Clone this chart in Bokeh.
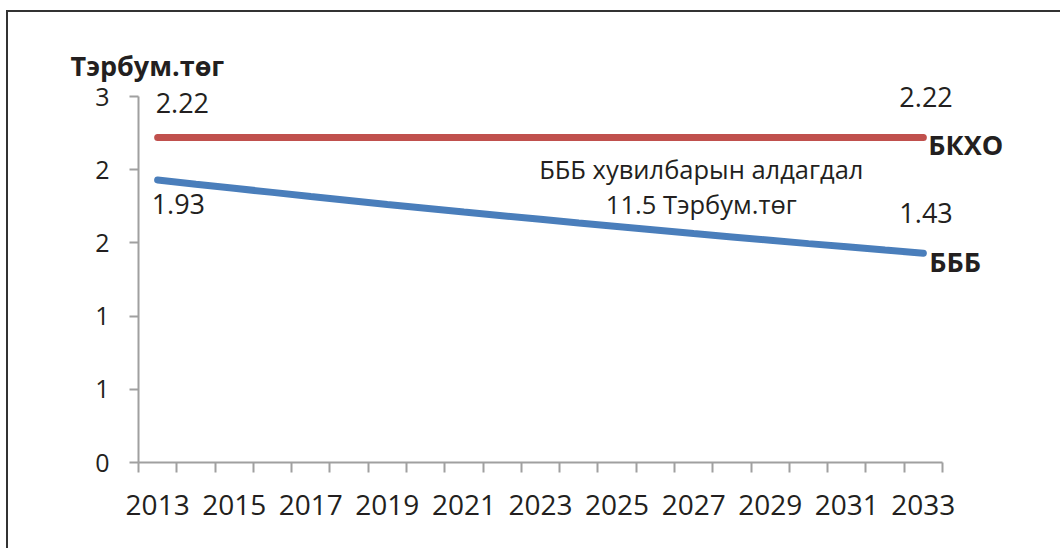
from bokeh.plotting import figure
from bokeh.models import Range1d, FixedTicker, Label, LabelSet, ColumnDataSource
from bokeh.core.properties import value
from bokeh.embed import file_html
from bokeh.resources import INLINE

# ---- data ----
years = [2013, 2014, 2015, 2016, 2017, 2018, 2019, 2020, 2021, 2022, 2023,
         2024, 2025, 2026, 2027, 2028, 2029, 2030, 2031, 2032, 2033]
bkho = [2.22, 2.22, 2.22, 2.22, 2.22, 2.22, 2.22, 2.22, 2.22, 2.22, 2.22,
        2.22, 2.22, 2.22, 2.22, 2.22, 2.22, 2.22, 2.22, 2.22, 2.22]
bbb = [1.930, 1.901, 1.873, 1.845, 1.817, 1.790, 1.763, 1.737, 1.711, 1.686, 1.661,
       1.636, 1.612, 1.588, 1.564, 1.541, 1.518, 1.495, 1.473, 1.451, 1.430]
x_label_years = [2013, 2015, 2017, 2019, 2021, 2023, 2025, 2027, 2029, 2031, 2033]
y_tick_values = [0, 0.5, 1.0, 1.5, 2.0, 2.5]
y_tick_labels = ["0", "1", "1", "2", "2", "3"]
unit_label = "Тэрбум.төг"
series_names = ["БКХО", "БББ"]
note_lines = ["БББ хувилбарын алдагдал", "11.5 Тэрбум.төг"]

FONT = "Open Sans"
TXT = "#231f20"
AX = "#a0a0a0"
RED = "#c0504d"
BLUE = "#4a7ebb"

PX_PER_YEAR = 38.286
PX_PER_UNIT = 146.4
FW, FH = 877, 378

p = figure(frame_width=FW, frame_height=FH,
           min_border_left=130, min_border_right=45,
           min_border_top=72, min_border_bottom=86,
           x_range=Range1d(years[0] - 0.5, years[0] - 0.5 + FW / PX_PER_YEAR),
           y_range=Range1d(y_tick_values[0], y_tick_values[0] + FH / PX_PER_UNIT),
           output_backend="svg", toolbar_location=None)
p.outline_line_color = None
p.xgrid.visible = False
p.ygrid.visible = False
p.background_fill_color = "white"
p.border_fill_color = "white"
p.styles = {"border-top": "2px solid #333333", "border-left": "2px solid #333333",
            "border-right": "none", "border-bottom": "none",
            "margin-left": "6px", "margin-top": "10px"}

# unit label as title
p.title.text = unit_label
p.title.align = "left"
p.title.offset = -68
p.title.text_font = FONT
p.title.text_font_size = "27px"
p.title.text_font_style = "bold"
p.title.text_color = TXT
p.title.standoff = 2

# x axis: labels every other year, ticks at category boundaries
xa = p.xaxis[0]
xa.bounds = (years[0] - 0.5, years[-1] + 0.5)
xa.ticker = FixedTicker(ticks=x_label_years,
                        minor_ticks=[y - 0.5 for y in years] + [years[-1] + 0.5])
xa.major_label_overrides = {y: str(y) for y in x_label_years}
xa.major_tick_out = 0
xa.major_tick_in = 0
xa.minor_tick_out = 10
xa.minor_tick_in = 0
xa.minor_tick_line_color = AX
xa.minor_tick_line_width = 2
xa.axis_line_color = AX
xa.axis_line_width = 2
xa.major_label_text_font = FONT
xa.major_label_text_font_size = "28px"
xa.major_label_text_color = TXT
xa.major_label_standoff = 22

ya = p.yaxis[0]
ya.bounds = (y_tick_values[0], y_tick_values[-1])
ya.ticker = FixedTicker(ticks=y_tick_values)
ya.major_label_overrides = dict(zip(y_tick_values, y_tick_labels))
ya.major_tick_out = 9
ya.major_tick_in = 0
ya.major_tick_line_color = AX
ya.major_tick_line_width = 2
ya.minor_tick_line_color = None
ya.axis_line_color = AX
ya.axis_line_width = 2
ya.major_label_text_font = FONT
ya.major_label_text_font_size = "25px"
ya.major_label_text_color = TXT
ya.major_label_standoff = 20

p.line(years, bkho, line_width=7, color=RED, line_cap="round")
p.line(years, bbb, line_width=7, color=BLUE, line_cap="round")

# value labels at both ends
src = ColumnDataSource(dict(
    x=[years[0], years[-1], years[0], years[-1]],
    y=[bkho[0], bkho[-1], bbb[0], bbb[-1]],
    t=["%.2f" % bkho[0], "%.2f" % bkho[-1], "%.2f" % bbb[0], "%.2f" % bbb[-1]],
    xo=[-2, -24, -6, -24],
    yo=[24, 30, -34, 30],
))
p.add_layout(LabelSet(x="x", y="y", text="t", source=src, x_offset="xo", y_offset="yo",
                      text_font=value(FONT), text_font_size="27px", text_color=TXT,
                      text_align="left", text_baseline="alphabetic"))

# series names at right end
p.add_layout(Label(x=years[-1], y=bkho[-1], text=series_names[0], x_offset=5, y_offset=-7,
                   text_font=FONT, text_font_size="27px", text_font_style="bold",
                   text_color=TXT, text_baseline="alphabetic"))
p.add_layout(Label(x=years[-1], y=bbb[-1], text=series_names[1], x_offset=6, y_offset=-8,
                   text_font=FONT, text_font_size="27px", text_font_style="bold",
                   text_color=TXT, text_baseline="alphabetic"))

# note text
p.add_layout(Label(x=2027.2, y=1.947, text=note_lines[0], text_align="center", y_offset=8,
                   text_font=FONT, text_font_size="25.5px", text_color=TXT,
                   text_baseline="alphabetic"))
p.add_layout(Label(x=2027.2, y=1.947, text=note_lines[1], text_align="center", y_offset=-27,
                   text_font=FONT, text_font_size="25.5px", text_color=TXT,
                   text_baseline="alphabetic"))

open("out.html", "w").write(file_html(p, INLINE))
